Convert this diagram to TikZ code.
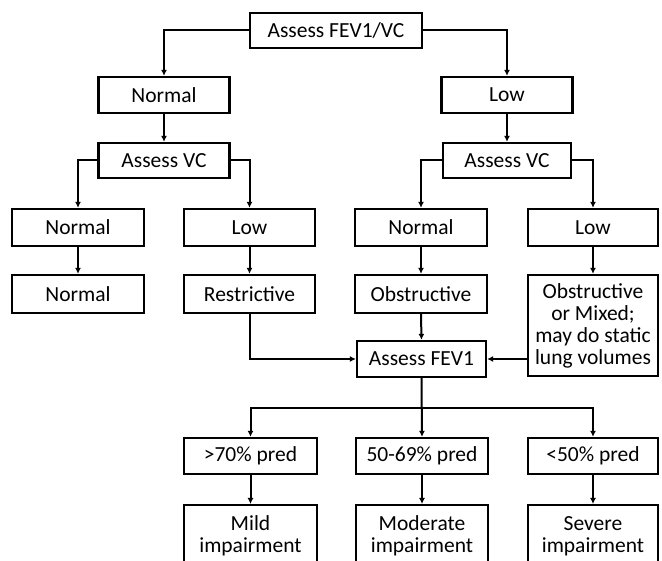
\documentclass[tikz,border=0pt]{standalone}
\usepackage{fontspec}
\setmainfont{Carlito}
\usetikzlibrary{arrows.meta}
\begin{document}
\begin{tikzpicture}[x=1pt,y=-1pt,
  box/.style={draw=black, line width=2.3pt, inner sep=0pt, align=center,
    font=\fontsize{21.5}{22}\selectfont, minimum height=36pt},
  arr/.style={line width=2pt, -{Latex[length=6pt,width=6pt]}},
  ln/.style={line width=2pt}]
\clip (0,0) rectangle (662,561);
\fill[white] (0,0) rectangle (662,561);
% row 0
\node[box, minimum width=172pt, minimum height=35pt] (A) at (336,30.5) {Assess FEV1/VC};
% row 1
\node[box, minimum width=131pt] (N1) at (164,95) {Normal};
\node[box, minimum width=131pt] (L1) at (507,95) {Low};
% row 2
\node[box, minimum width=131pt, minimum height=35pt] (VCL) at (164,160.5) {Assess VC};
\node[box, minimum width=128pt, minimum height=35pt] (VCR) at (507,160.5) {Assess VC};
% row 3
\node[box, minimum width=132pt, minimum height=37pt] (NA) at (78,227.5) {Normal};
\node[box, minimum width=131pt, minimum height=37pt] (LA) at (249.5,227.5) {Low};
\node[box, minimum width=132pt, minimum height=37pt] (NB) at (421,227.5) {Normal};
\node[box, minimum width=130pt, minimum height=37pt] (LB) at (593,227.5) {Low};
% row 4
\node[box, minimum width=132pt, minimum height=38pt] (NN) at (78,294) {Normal};
\node[box, minimum width=131pt, minimum height=38pt] (RS) at (249.5,294) {Restrictive};
\node[box, minimum width=132pt, minimum height=38pt] (OB) at (421,294) {Obstructive};
\node[box, minimum width=130pt, minimum height=101pt] (OM) at (593,325.5) {Obstructive\\or Mixed;\\may do static\\lung volumes};
% assess FEV1
\node[box, minimum width=129pt, minimum height=36pt] (F1) at (421.5,359) {Assess FEV1};
\coordinate (br) at (421.5,408);
% pred row
\node[box, minimum width=133pt, minimum height=36pt] (P1) at (250.5,456) {>70\% pred};
\node[box, minimum width=132pt, minimum height=36pt] (P2) at (422,456) {50-69\% pred};
\node[box, minimum width=130pt, minimum height=36pt] (P3) at (593,456) {<50\% pred};
% impairment row
\node[box, minimum width=133pt, minimum height=62pt, anchor=north] (I1) at (250.5,504) {Mild\\impairment};
\node[box, minimum width=132pt, minimum height=62pt, anchor=north] (I2) at (422,504) {Moderate\\impairment};
\node[box, minimum width=130pt, minimum height=62pt, anchor=north] (I3) at (593,504) {Severe\\impairment};
% connectors
\draw[arr] (A.west) -| (N1.north);
\draw[arr] (A.east) -| (L1.north);
\draw[arr] (N1.south) -- (VCL.north);
\draw[arr] (L1.south) -- (VCR.north);
\draw[arr] (VCL.west) -| (NA.north);
\draw[arr] (VCL.east) -| (LA.north);
\draw[arr] (VCR.west) -| (NB.north);
\draw[arr] (VCR.east) -| (LB.north);
\draw[arr] (NA.south) -- (NN.north);
\draw[arr] (LA.south) -- (RS.north);
\draw[arr] (NB.south) -- (OB.north);
\draw[arr] (LB.south) -- (OM.north);
\draw[arr] (OB.south) -- (F1.north);
\draw[arr] (RS.south) |- (F1.west);
\draw[arr] (F1.east -| OM.west) -- (F1.east);
\draw[arr] (F1.south) -- (P2.north);
\draw[arr] (br) -| (P1.north);
\draw[arr] (br) -| (P3.north);
\draw[arr] (P1.south) -- (I1.north);
\draw[arr] (P2.south) -- (I2.north);
\draw[arr] (P3.south) -- (I3.north);
\end{tikzpicture}
\end{document}
